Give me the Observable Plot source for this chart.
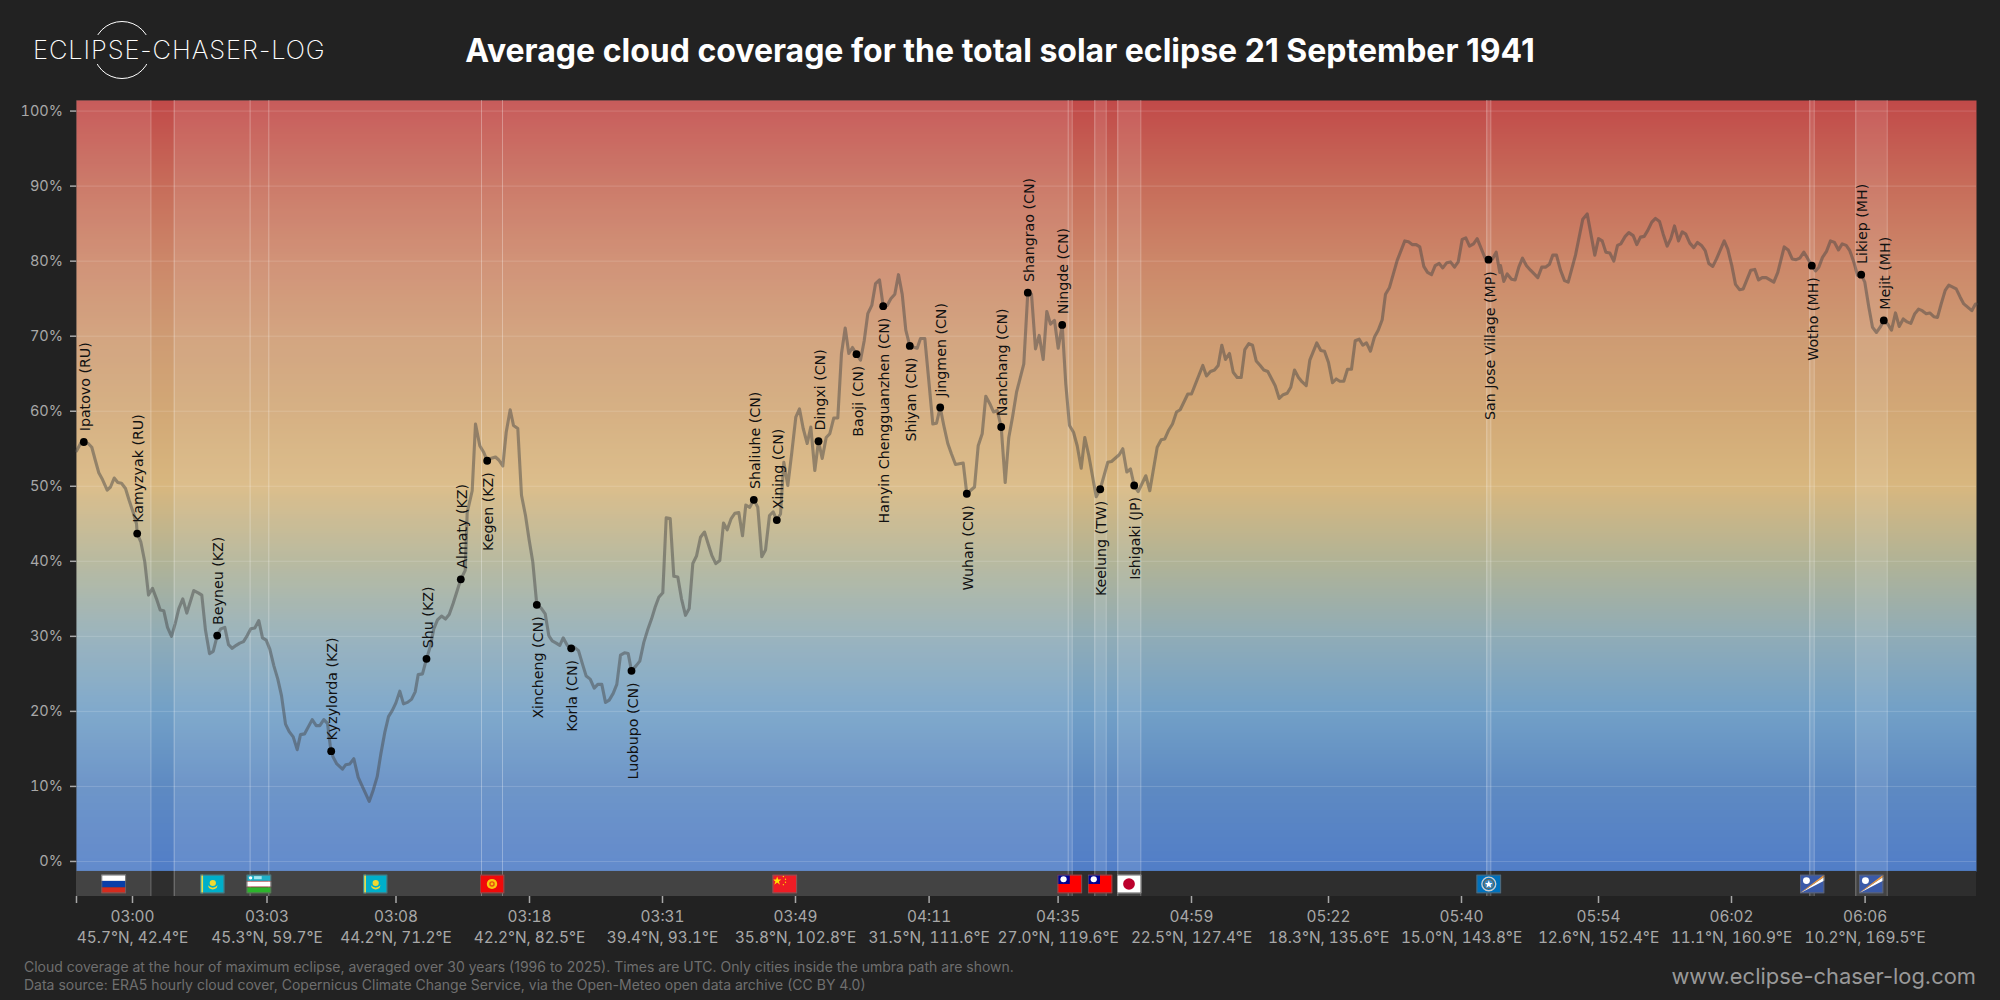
<!DOCTYPE html>
<html>
<head>
<meta charset="utf-8">
<script src="https://cdn.jsdelivr.net/npm/d3@7"></script>
<script src="https://cdn.jsdelivr.net/npm/@observablehq/plot@0.6"></script>
<style>
html,body{margin:0;padding:0;background:#222222;width:2000px;height:1000px;overflow:hidden;font-family:Inter,sans-serif}
#header{position:relative;height:100px;width:2000px}
#title{position:absolute;left:0;width:2000px;top:30px;text-align:center;color:#fff;font:700 32px/42px Inter,sans-serif;white-space:nowrap}
#ring{position:absolute;left:93px;top:21px;width:56px;height:56px;border:1px solid #fff;border-radius:50%}
#logo{position:absolute;left:33px;top:35px;height:29px;line-height:29px;background:#222222;color:#fff;font-family:Inter,sans-serif;font-weight:200;font-size:25.5px;letter-spacing:0.9px;white-space:nowrap}
#chart svg{display:block}
#note{position:absolute;left:24px;top:958px;color:#6f6f6f;font:14px/18px Inter,sans-serif;white-space:nowrap}
#site{position:absolute;right:24px;top:961px;color:#999;font:21.9px/30px Inter,sans-serif;white-space:nowrap}
</style>
</head>
<body>
<div id="header">
  <div id="ring"></div>
  <div id="logo">ECLIPSE-CHASER-LOG</div>
  <div id="title">Average cloud coverage for the total solar eclipse 21 September 1941</div>
</div>
<div id="chart"></div>
<div id="note">Cloud coverage at the hour of maximum eclipse, averaged over 30 years (1996 to 2025). Times are UTC. Only cities inside the umbra path are shown.<br>Data source: ERA5 hourly cloud cover, Copernicus Climate Change Service, via the Open-Meteo open data archive (CC BY 4.0)</div>
<div id="site">www.eclipse-chaser-log.com</div>
<script>
// Position along the eclipse track and average cloud cover (%)
const trackPos = [0,4,7.3,11.7,15.3,18.3,22.3,26,30.7,34,37.7,41.3,45,49,52.7,56.7,60,60.7,64.3,68.3,72,76,80,83.7,87.3,91,95,98.7,102.3,106.3,110.3,117.3,121.7,125.3,129,133,136.7,140.7,144.3,148.3,152,155.7,159.7,163.3,167,170.7,174.3,178.3,182.3,186,189.7,193.3,197.3,201.3,205,209,212.7,216.7,220.7,224,228,235.7,239.7,243.3,247.3,251,253.7,254.7,256.7,260.3,266,269.3,273.3,277.3,281.7,292.7,296.7,300.7,304.3,308.3,312,315.7,319.3,323.3,327,331,335,338.7,341.7,346,350,353.7,357.3,361,365,369,372.7,376.7,384.3,
388.7,390.7,395.7,399,403.3,407.3,410.7,414,419,422.3,426.3,429.7,433.7,437,441.3,445,449,452.7,456.3,460.3,465,468.7,472.3,475.7,479.7,483.3,486.7,490.7,494.7,498.3,502,506,509.7,513.7,517.7,521.3,525.3,529,532.7,536.7,540.3,544,548,551.7,555,559.7,563.3,567.3,571,575,578.7,582.3,586.3,589.7,593.7,597.3,601.3,605,609,612.7,616.3,620,624,628,631.7,635.3,639.3,643.3,647,650.7,654.7,658.3,662.3,666,669.3,673.3,677.3,681.3,685.3,689,693,696.7,700.3,704,707.3,711.3,715.3,719.3,723,726.7,730.7,734.3,738.3,742,745.7,749.7,753.3,757.3,761.3,
765,768.7,772.3,776,780,784,787.7,791.3,795.3,799,803,806.7,810.7,814.3,818.3,822,825.7,829.3,833.3,840.7,844,848.3,852,856.3,860,863.7,867.3,871.3,875,879,886.7,890.3,898,901.7,905.7,909.3,913.3,917,920.7,924.7,928.7,932.3,936,940,947.3,951.3,955,959,962.7,966.7,970.3,974,978,981.7,985.7,989.3,993,997,1000.7,1004.7,1008.3,1012.3,1019.7,1023.7,1031.3,1035,1042.7,1046.3,1050.3,1054,1057.7,1061.7,1069.3,1073.3,1080.7,1084.7,1088.3,1092.3,1096,1100,1103.7,1111.3,1115,1123,
1126.3,1130,1134,1138,1141.7,1145.3,1149,1153,1156.7,1160.7,1164.7,1168.3,1172.3,1176,1179.7,1183.7,1187.3,1191.3,1198.7,1202.7,1206.7,1210.7,1214.3,1218,1222,1225.7,1229.7,1233.3,1240.3,1244.3,1248,1252,1256,1259.7,1263.3,1267.3,1271,1275,1278.7,1282.7,1286.3,1290,1294,1298,1301.7,1305.7,1309,1313,1320.7,1328.3,1332,1336,1339.7,1343.3,1347.3,1351,1355,1358.7,1362.7,1366.3,1370.3,1374,1378,1381.7,1385.7,1389.3,1393,1397,1400.7,1408.3,1412,1416,1419.7,1423.3,
1424,1427.3,1430.7,1435,1438.7,1442.3,1446,1450,1454,1461.3,1465.3,1469,1473,1476.3,1480,1484,1488,1491.7,1499,1506.3,1510.7,1518.3,1522,1525.7,1529.3,1533.3,1537.3,1541,1544.3,1548.7,1552.3,1556.7,1560.3,1564,1567.7,1571.3,1575.3,1579,1583,1586.7,1590.7,1594.3,1598,1602,1605.7,1609.3,1613.3,1617.3,1621,1625,1628.7,1632.3,1636.3,1640,1647.7,1651.3,1655.3,1659,1663,1666.7,1674.3,1678.3,1682,1685.7,1689.7,1697.3,1701.3,1707.7,1711.7,1715.7,1719.7,1723.3,1727.3,1731,1735.3,1739,1742.3,1746,1750,1754,1758,1762,1765.7,1769.7,1773.3,1777.3,1781,1784.7,1788.3,1792.3,1796,1800,1803.7,1807.3,1811.3,1815,1819,1822.7,1826.7,1830.7,1834.3,1838.3,1842,1845.7,1849.7,1853.3,1857.3,1861,1864.7,1868.7,1872.3,1879.7,1883.7,1887.3,1895.3,1899,1900];
const cloudCover = [54.7,55.7,55.9,55.7,55.2,53.7,51.8,50.9,49.5,49.9,51.1,50.5,50.4,49.7,48.1,46.5,45,43.7,42.6,39.9,35.5,36.4,35,33.5,33.4,31.2,30,31.7,33.7,35,33.1,36.1,35.8,35.5,30.8,27.7,28,30.1,31,31.2,28.9,28.4,28.8,29.1,29.3,30.1,31,31.1,32.1,29.8,29.5,28.3,26.1,24.3,22.1,18.3,17.3,16.6,14.9,16.9,17,18.9,18.1,18.1,18.9,18.4,15.5,14.7,13.9,13,12.3,12.9,13,13.7,11.2,8,9.5,11.3,14.3,17.2,19.3,20.1,21.1,22.7,21,21.2,21.6,22.6,24.9,25,27,28.6,31,32.2,32.7,32.3,32.9,34.4,37.6,
38.8,46.5,49.4,58.3,55.4,54.5,53.4,53.7,53.9,53.5,52.7,57.2,60.2,58.1,57.7,48.8,46.1,42.8,39.9,34.2,33.7,33,30.1,29.4,29.1,28.8,29.8,28.8,28.4,28.5,28.1,26.3,24.7,24.3,23.1,23.6,23.6,21.2,21.5,22.4,23.6,27.5,27.8,27.7,25.4,26.1,26.7,29.2,30.8,32.3,33.9,35.2,35.8,45.8,45.7,38,37.9,35,32.8,33.7,39.7,40.7,43.2,43.9,42.3,40.8,39.7,40.1,45.1,44.2,45.7,46.4,46.5,43.4,47.5,47.2,48.2,47.2,40.6,41.5,46.1,46.6,45.5,46.3,53.2,50.1,54.5,59.2,60.3,57.7,55.7,57.9,52.1,56,53.7,56.5,57,59.1,59.1,
67.7,71.1,67.7,68.5,67.6,66.8,69.4,73,74.1,77,77.5,74,74.1,75,75.6,78.2,75.6,70.8,68.7,68.4,69.7,69.7,64.5,58.3,58.4,60.5,58.1,55.7,54.3,52.9,53.1,49,49.9,55.4,57,62,61,59.9,60.1,57.9,50.5,56.5,59.2,62.5,66.3,75.8,75.6,68.3,70.1,66.9,73.3,71.6,72.1,68.4,71.5,63.6,58.1,57.2,55.4,52.4,56.5,54.1,48.6,49.6,53.2,53.3,54.2,55,51.9,52.3,50.1,49.3,51.4,49.4,55.2,56.2,56.3,57.5,58.3,59.9,60.2,62.3,62.3,65,
66.1,64.7,65.3,65.5,66.1,68.8,66.9,67.7,65.2,64.5,64.5,68.2,69,68.8,66.7,66.1,65.5,65.3,63.4,61.7,62.2,62.4,63.2,65.5,64.5,63.9,63.4,66.8,69.1,68.1,68,66.5,63.8,64.3,64,64,65.6,65.6,69.4,69.6,68.8,69.1,68,69.9,70.8,72.2,75.6,76.5,80.1,82.7,82.6,82.2,82.2,81.9,79.3,78.5,78.2,79.4,79.7,79.1,79.8,79.9,79.2,79.9,82.9,83.1,82,82.3,83,80.5,80.2,80.3,81.2,78.5,
79.4,77.3,78.3,77.6,77.5,79.2,80.4,79.4,78.8,77.8,79.2,79.2,79.6,80.8,80.8,78.8,77.4,77.2,80.8,85.6,86.3,80.8,83,82.7,81.2,81.1,80,82.1,82.3,83.3,83.8,83.4,82.2,83.2,83.3,84.1,85.2,85.7,85.3,83.6,82,83,84.7,82.7,83.9,83.6,82.4,81.8,82.5,82.1,81.4,79.7,79.3,80.3,82.7,81.6,79.4,76.9,76.2,76.3,78.8,78.9,77.5,77.8,77.8,77.2,78.5,81.9,81.5,80.3,80.2,80.4,81.2,80.4,79.4,78.7,79.2,80.5,81.3,82.7,82.5,81.5,82.3,82.1,81.4,79.9,78.1,78.2,77.2,73.9,71.2,70.5,71.2,72.1,71.6,70.8,73.1,71.3,72.3,71.9,71.7,73,73.6,73.4,73,73.1,72.6,72.5,74.3,76.1,76.8,76.3,75.2,74.3,73.4,74.3,74.3];

// Cities along the track
const cityNames = ["Ipatovo (RU)","Kamyzyak (RU)","Beyneu (KZ)","Kyzylorda (KZ)","Shu (KZ)","Almaty (KZ)","Kegen (KZ)","Xincheng (CN)","Korla (CN)","Luobupo (CN)","Shaliuhe (CN)","Xining (CN)","Dingxi (CN)","Baoji (CN)","Hanyin Chengguanzhen (CN)","Shiyan (CN)","Jingmen (CN)","Wuhan (CN)","Nanchang (CN)","Shangrao (CN)","Ningde (CN)","Keelung (TW)","Ishigaki (JP)","San Jose Village (MP)","Wotho (MH)","Likiep (MH)","Mejit (MH)"];
const cityPos = [7.3,60.7,140.7,254.7,350,384.3,410.7,460.3,494.7,555,677.3,700.3,742,780,806.7,833.3,863.7,890.3,924.7,951.3,985.7,1023.7,1057.7,1412,1735.3,1784.7,1807.3];
const cityCover = [55.9,43.7,30.1,14.7,27,37.6,53.4,34.2,28.4,25.4,48.2,45.5,56,67.6,74,68.7,60.5,49,57.9,75.8,71.5,49.6,50.1,80.2,79.4,78.2,72.1];
const labelsUp = [true,true,true,true,true,true,false,false,false,false,true,true,true,false,false,false,true,false,true,true,true,false,false,false,false,true,true];

// Axis
const yTicks = [0,10,20,30,40,50,60,70,80,90,100];
const xTickPos = [0,56,190.5,319.5,453,586,719,852.6,981.6,1115,1252,1385,1522,1655,1788.6];
const xTickTimes = ["","03:00","03:03","03:08","03:18","03:31","03:49","04:11","04:35","04:59","05:22","05:40","05:54","06:02","06:06"];
const xTickCoords = ["","45.7°N, 42.4°E","45.3°N, 59.7°E","44.2°N, 71.2°E","42.2°N, 82.5°E","39.4°N, 93.1°E","35.8°N, 102.8°E","31.5°N, 111.6°E","27.0°N, 119.6°E","22.5°N, 127.4°E","18.3°N, 135.6°E","15.0°N, 143.8°E","12.6°N, 152.4°E","11.1°N, 160.9°E","10.2°N, 169.5°E"];

// Land stretches of the track and the outlines of each stretch
const landStart = [0,97.7,1018.3,1041.3,1410.3,1733.3,1779.3];
const landEnd = [74.4,995.7,1029.7,1064.3,1414.3,1737.7,1810.7];
const zoneLines = [74.4,97.7,173.6,192.3,405,426,991.7,995.7,1018.3,1029.7,1041.3,1064.3,1410.3,1414.3,1733.3,1737.7,1779.3,1810.7];

// Flags
const flagCountries = ["RU","KZ","UZ","KZ","KG","CN","TW","TW","JP","MP","MH","MH"];
const flagPos = [37.2,135.6,182.4,298.5,415.5,708.3,993.3,1023.5,1052.5,1412.3,1735.5,1794.5];

// Colour ramp of the cloud cover
const rampValues = [-2,0,10,20,30,40,50,60,70,80,90,102];
const rampColors = ["#507dc6","#537fc7","#5e8ac2","#72a0c7","#90acb7","#b1b396","#d8b77f","#d2a876","#ce9b73","#cc8769","#c76d5a","#c14848"];

const flagArt = {
  RU:'<rect width="72" height="19" fill="#fff"/><rect y="19" width="72" height="19" fill="#0a3ea8"/><rect y="38" width="72" height="18" fill="#d52b1e"/>',
  KZ:'<rect width="72" height="56" fill="#00afca"/><rect x="5" width="5" height="56" fill="#e8dc50"/><circle cx="38" cy="25" r="9" fill="#f2d930"/><path d="M24 32q14 14 28 0l-3 8q-11 8-22 0z" fill="#f2d930"/>',
  UZ:'<rect width="72" height="19" fill="#1eb0c8"/><rect y="19" width="72" height="2" fill="#d33"/><rect y="21" width="72" height="15" fill="#fff"/><rect y="36" width="72" height="2" fill="#d33"/><rect y="38" width="72" height="18" fill="#2cb52c"/><circle cx="12" cy="10" r="5" fill="#fff"/><rect x="22" y="5" width="22" height="9" fill="#dff" opacity=".7"/>',
  KG:'<rect width="72" height="56" fill="#f00a0a"/><circle cx="36" cy="28" r="15" fill="#f9c80e"/><circle cx="36" cy="28" r="8" fill="#e84d10"/><circle cx="36" cy="28" r="4" fill="#f9c80e"/>',
  CN:'<rect width="72" height="56" fill="#ee1c25"/><path d="M14 6l3 9 9 0-7 6 3 9-8-6-8 6 3-9-7-6 9 0z" fill="#ffe000"/><circle cx="32" cy="6" r="2" fill="#fd0"/><circle cx="38" cy="14" r="2" fill="#fd0"/><circle cx="38" cy="23" r="2" fill="#fd0"/><circle cx="32" cy="30" r="2" fill="#fd0"/>',
  TW:'<rect width="72" height="56" fill="#fe0000"/><rect width="36" height="28" fill="#000095"/><circle cx="18" cy="14" r="9" fill="#fff"/>',
  JP:'<rect width="72" height="56" fill="#fff"/><circle cx="36" cy="28" r="17" fill="#bc002d"/>',
  MP:'<rect width="72" height="56" fill="#0071bc"/><circle cx="36" cy="28" r="20" fill="none" stroke="#ccc" stroke-width="4"/><circle cx="36" cy="28" r="15" fill="#7a6a50"/><circle cx="36" cy="28" r="12" fill="#3a8ac8"/><path d="M36 17l3 8 8 0-6 5 2 9-7-5-7 5 2-9-6-5 8 0z" fill="#fff"/>',
  MH:'<rect width="72" height="56" fill="#3b5aa8"/><path d="M0 56L72 7V18z" fill="#fff"/><path d="M0 56L72 0V7z" fill="#ee9a3a"/><circle cx="20" cy="18" r="10" fill="#fff"/>'
};
const flagSrc = c => "data:image/svg+xml," + encodeURIComponent('<svg xmlns="http://www.w3.org/2000/svg" viewBox="0 0 72 56" width="72" height="56" preserveAspectRatio="none">' + flagArt[c] + '<rect x="1.5" y="1.5" width="69" height="53" fill="none" stroke="#666" stroke-width="3"/></svg>');

const yBottom = -4.67, yStrip = -1.33, yTop = 101.41, xEnd = 1900;
const line = trackPos.map((x,i)=>({x, y: cloudCover[i]}));
const cities = cityNames.map((name,i)=>({name, x: cityPos[i], y: cityCover[i], up: labelsUp[i]}));
const land = landStart.map((a,i)=>({a, b: landEnd[i]}));
const flags = flagCountries.map((c,i)=>({src: flagSrc(c), x: flagPos[i]}));
const tickLabel = new Map(xTickPos.map((p,i)=>[p, xTickTimes[i] ? xTickTimes[i] + "\n" + xTickCoords[i] : ""]));

const chart = Plot.plot({
  width: 2000, height: 850,
  marginTop: 0, marginBottom: 54, marginLeft: 76, marginRight: 24,
  style: {background: "transparent", fontFamily: "Inter, sans-serif", overflow: "visible"},
  x: {domain: [0, xEnd]},
  y: {domain: [yBottom, yTop]},
  color: {type: "linear", domain: rampValues, range: rampColors, clamp: true},
  marks: [
    Plot.raster({fill: (x, y) => y, x1: 0, x2: xEnd, y1: yStrip, y2: yTop, width: 2, height: 771, imageRendering: "auto"}),
    Plot.rect([0], {x1: 0, x2: xEnd, y1: yBottom, y2: yStrip, fill: "#2e2e2e"}),
    Plot.rect(land, {x1: "a", x2: "b", y1: yBottom, y2: yTop, fill: "#fff", fillOpacity: 0.1}),
    Plot.ruleY(yTicks, {stroke: "#fff", strokeOpacity: 0.16, strokeWidth: 1}),
    Plot.ruleX(zoneLines, {y1: yBottom, y2: yTop, stroke: "#fff", strokeOpacity: 0.3, strokeWidth: 1}),
    Plot.line(line, {x: "x", y: "y", stroke: "#444", strokeOpacity: 0.48, strokeWidth: 3.1, strokeLinejoin: "round"}),
    Plot.dot(cities, {x: "x", y: "y", r: 3.9, fill: "#000"}),
    Plot.text(cities.filter(d=>d.up), {x: "x", y: "y", text: "name", rotate: -90, textAnchor: "start", lineAnchor: "middle", dy: -10.7, dx: 1.5, fontSize: 14.2, fontFamily: "DejaVu Sans", fill: "#111"}),
    Plot.text(cities.filter(d=>!d.up), {x: "x", y: "y", text: "name", rotate: -90, textAnchor: "end", lineAnchor: "middle", dy: 11.5, dx: 1.5, fontSize: 14.2, fontFamily: "DejaVu Sans", fill: "#111"}),
    Plot.image(flags, {x: "x", y: () => (yBottom + yStrip) / 2, src: "src", width: 25, height: 19, preserveAspectRatio: "none"}),
    Plot.axisY({ticks: yTicks, tickFormat: d => d + "%", tickSize: 6, tickPadding: 7.5, fontSize: 14.5, color: "#a8a8a8", strokeWidth: 1.5, label: null}),
    Plot.axisX({ticks: xTickPos, tickFormat: d => tickLabel.get(d), tickSize: 7, tickPadding: 3, fontSize: 15.4, lineHeight: 1.4, color: "#a8a8a8", strokeWidth: 1.5, label: null})
  ]
});
document.getElementById("chart").appendChild(chart);
</script>
</body>
</html>
